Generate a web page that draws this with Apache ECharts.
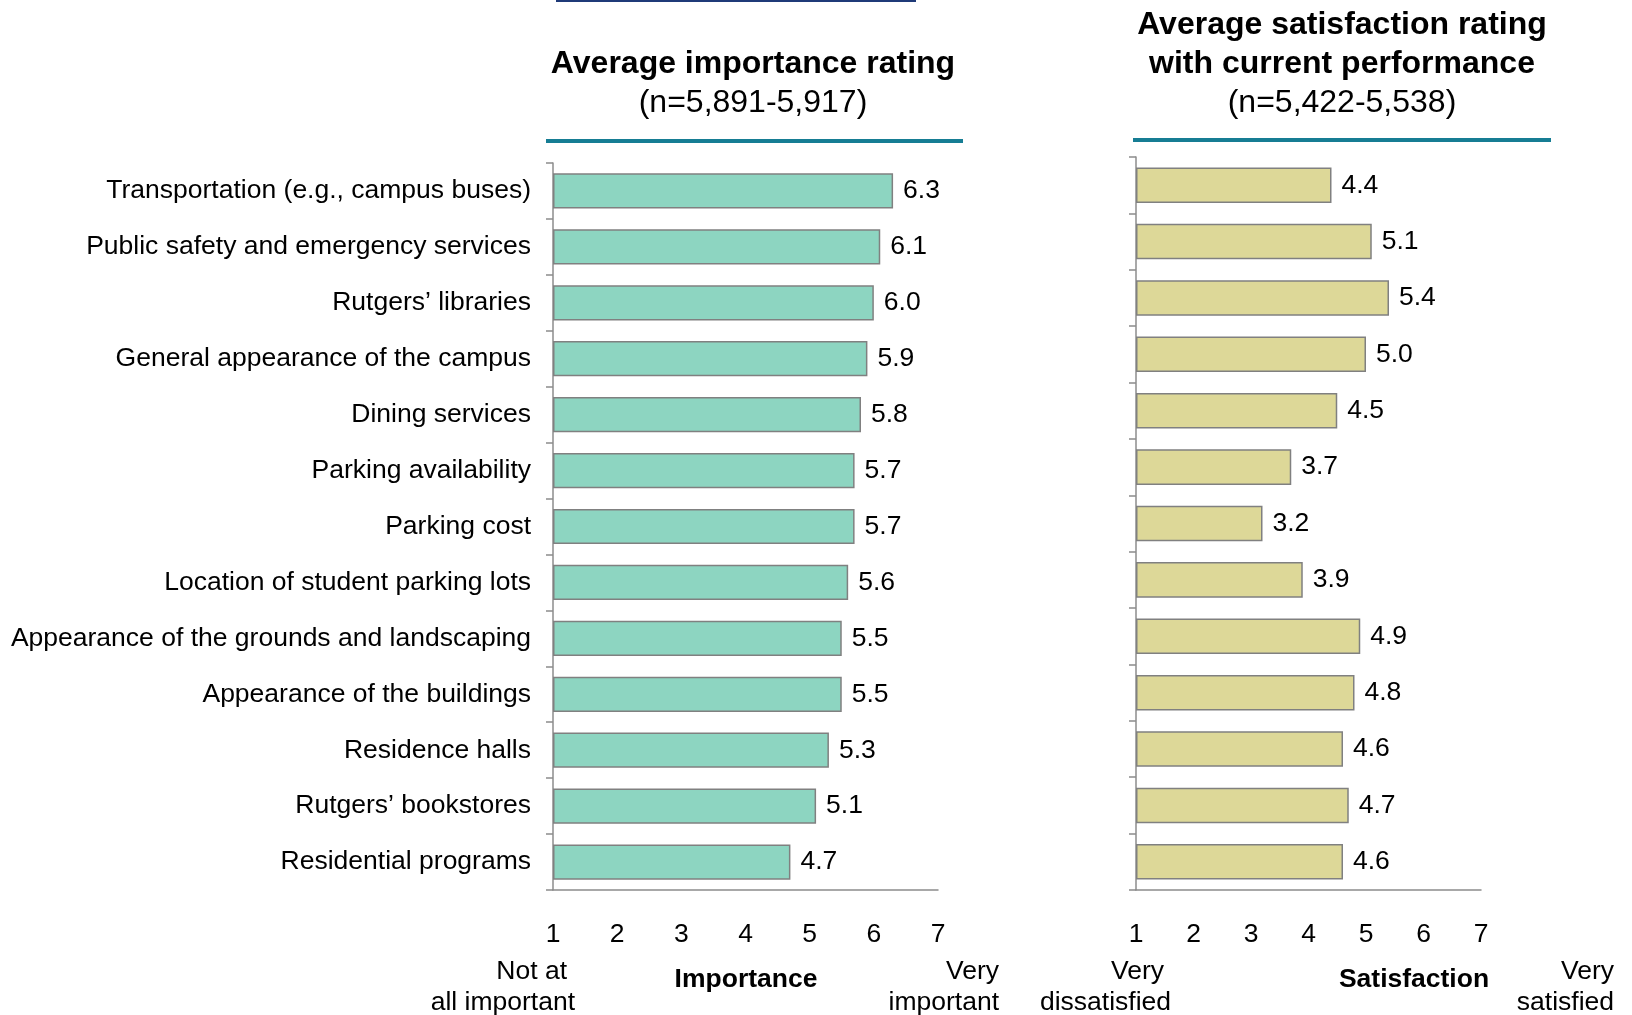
<!DOCTYPE html>
<html>
<head>
<meta charset="utf-8">
<script src="https://cdn.jsdelivr.net/npm/echarts@6/dist/echarts.min.js"></script>
<style>
  html, body { margin: 0; padding: 0; background: #fff; }
  #chart { width: 1632px; height: 1015px; }
</style>
</head>
<body>
<div id="chart"></div>
<script>
var categories = [
  'Transportation (e.g., campus buses)',
  'Public safety and emergency services',
  'Rutgers\u2019 libraries',
  'General appearance of the campus',
  'Dining services',
  'Parking availability',
  'Parking cost',
  'Location of student parking lots',
  'Appearance of the grounds and landscaping',
  'Appearance of the buildings',
  'Residence halls',
  'Rutgers\u2019 bookstores',
  'Residential programs'
];
var importance = [6.3, 6.1, 6.0, 5.9, 5.8, 5.7, 5.7, 5.6, 5.5, 5.5, 5.3, 5.1, 4.7];
var satisfaction = [4.4, 5.1, 5.4, 5.0, 4.5, 3.7, 3.2, 3.9, 4.9, 4.8, 4.6, 4.7, 4.6];
var scaleTicks = [1, 2, 3, 4, 5, 6, 7];

var font = 'Liberation Sans, Arial, sans-serif';
var axisGray = '#8c8c8c';
var fs = 26.5;

var chart = echarts.init(document.getElementById('chart'));

function valueAxis(grid) {
  return {
    type: 'value',
    gridIndex: grid,
    min: scaleTicks[0],
    max: scaleTicks[scaleTicks.length - 1],
    interval: 1,
    startValue: scaleTicks[0],
    axisLine: { show: true, lineStyle: { color: axisGray, width: 1.5 } },
    axisTick: { show: false },
    splitLine: { show: false },
    axisLabel: { fontSize: fs, color: '#000', fontFamily: font, margin: 31 }
  };
}

function catAxis(grid, showLabels) {
  return {
    type: 'category',
    gridIndex: grid,
    data: categories,
    inverse: true,
    axisLine: { show: true, lineStyle: { color: axisGray, width: 1.5 } },
    axisTick: { show: true, length: 7, lineStyle: { color: axisGray, width: 1.5 } },
    axisLabel: { show: showLabels, fontSize: fs, color: '#000', fontFamily: font, margin: 22 }
  };
}

function txt(x, y, s, align, bold, size) {
  return {
    type: 'text', x: x, y: y,
    style: {
      text: s, fill: '#000', align: align, verticalAlign: 'middle',
      font: (bold ? 'bold ' : '') + (size || fs) + 'px ' + font
    }
  };
}

function barLabel() {
  return {
    show: true, position: 'right', distance: 10,
    fontSize: fs, color: '#000', fontFamily: font,
    formatter: function (p) { return p.value.toFixed(1); }
  };
}

var option = {
  animation: false,
  grid: [
    { left: 553, width: 385, top: 163, height: 727 },
    { left: 1136, width: 345, top: 157, height: 733 }
  ],
  xAxis: [valueAxis(0), valueAxis(1)],
  yAxis: [catAxis(0, true), catAxis(1, false)],
  series: [
    {
      type: 'bar', xAxisIndex: 0, yAxisIndex: 0,
      data: importance,
      barCategoryGap: '37%',
      itemStyle: { color: '#8dd5c1', borderColor: '#808080', borderWidth: 1.5 },
      label: barLabel()
    },
    {
      type: 'bar', xAxisIndex: 1, yAxisIndex: 1,
      data: satisfaction,
      barCategoryGap: '37%',
      itemStyle: { color: '#ddd898', borderColor: '#808080', borderWidth: 1.5 },
      label: barLabel()
    }
  ],
  graphic: [
    { type: 'rect', shape: { x: 556, y: 0, width: 360, height: 2 }, style: { fill: '#1f3a78' } },
    { type: 'rect', shape: { x: 546, y: 139, width: 417, height: 4 }, style: { fill: '#167d94' } },
    { type: 'rect', shape: { x: 1133, y: 138, width: 418, height: 4 }, style: { fill: '#167d94' } },

    txt(753, 64, 'Average importance rating', 'center', true, 32),
    txt(753, 103, '(n=5,891-5,917)', 'center', false, 32),
    txt(1342, 25, 'Average satisfaction rating', 'center', true, 32),
    txt(1342, 64, 'with current performance', 'center', true, 32),
    txt(1342, 103, '(n=5,422-5,538)', 'center', false, 32),

    txt(567, 972, 'Not at', 'right'),
    txt(575, 1003, 'all important', 'right'),
    txt(746, 980, 'Importance', 'center', true),
    txt(999, 972, 'Very', 'right'),
    txt(999, 1003, 'important', 'right'),

    txt(1164, 972, 'Very', 'right'),
    txt(1171, 1003, 'dissatisfied', 'right'),
    txt(1414, 980, 'Satisfaction', 'center', true),
    txt(1614, 972, 'Very', 'right'),
    txt(1614, 1003, 'satisfied', 'right')
  ]
};

chart.setOption(option);
</script>
</body>
</html>
